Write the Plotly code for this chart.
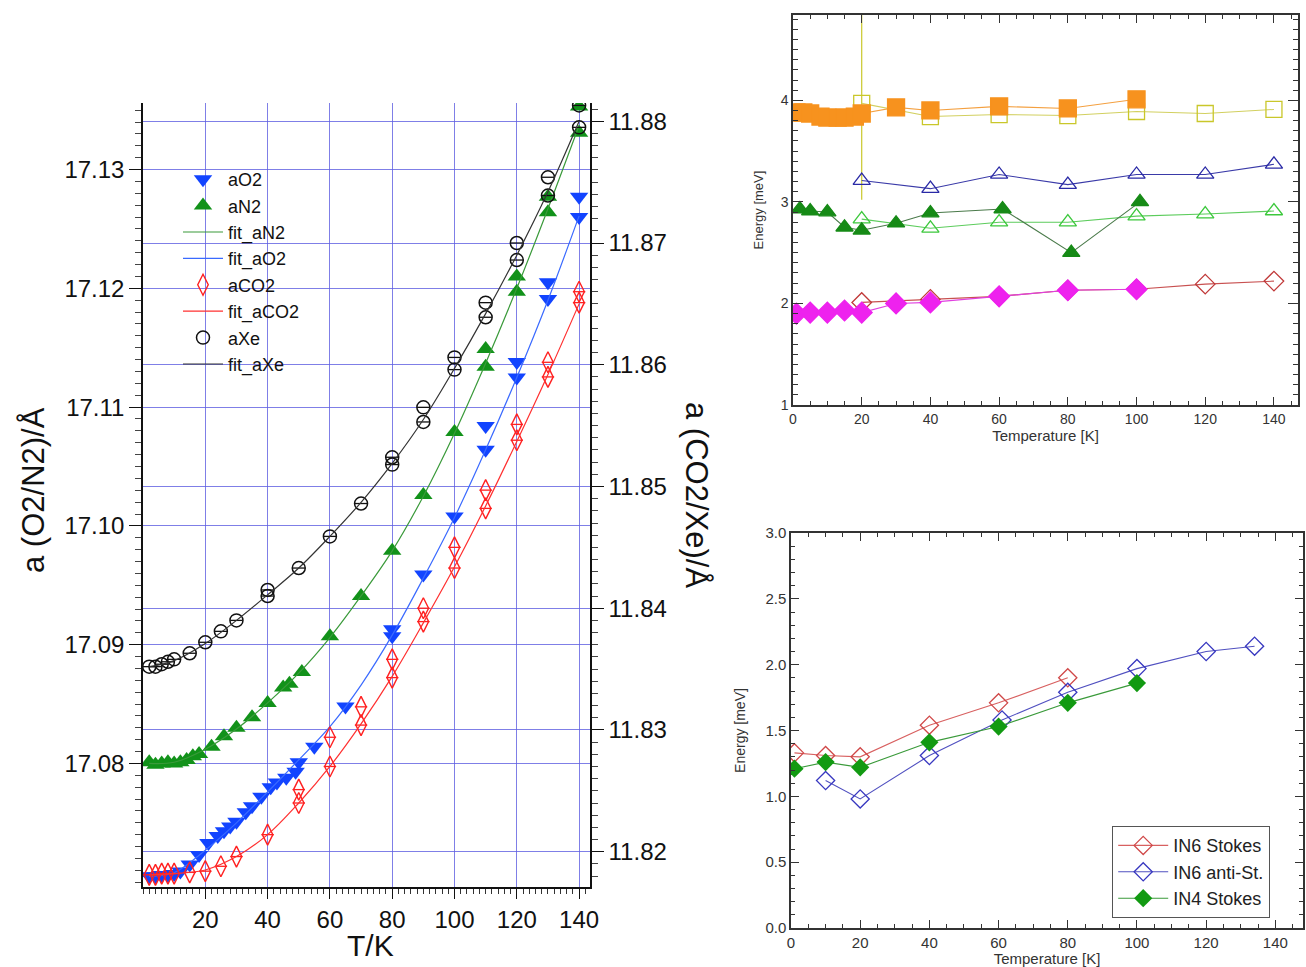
import plotly.graph_objects as go

# ---------------- Left panel data ----------------
T_O2 = [2, 4, 6, 8, 10, 12, 15, 18, 21, 24, 26, 28, 30, 33, 35, 38, 41, 43, 46, 49, 50, 55, 65,
        80, 80, 90, 100, 110, 110, 120, 120, 130, 130, 140, 140]
a_O2 = [17.0705, 17.0705, 17.0706, 17.0706, 17.0707, 17.0709, 17.0715, 17.0723, 17.0733, 17.0739,
        17.0743, 17.0747, 17.0751, 17.0759, 17.0764, 17.0772, 17.0780, 17.0784, 17.0788, 17.0793,
        17.0801, 17.0814, 17.0848, 17.0907, 17.0913, 17.0959, 17.1008, 17.1064, 17.1084, 17.1125,
        17.1138, 17.1191, 17.1205, 17.1260, 17.1277]

T_N2 = [2, 4, 6, 8, 10, 12, 14, 16, 18, 22, 26, 30, 35, 40, 45, 47, 51, 60, 70, 80, 90, 100,
        110, 110, 120, 120, 130, 130, 140, 140]
a_N2 = [17.0801, 17.0799, 17.0800, 17.0801, 17.0800, 17.0801, 17.0803, 17.0806, 17.0808, 17.0814,
        17.0823, 17.0830, 17.0839, 17.0851, 17.0864, 17.0867, 17.0877, 17.0907, 17.0941, 17.0979,
        17.1026, 17.1079, 17.1134, 17.1149, 17.1197, 17.1210, 17.1264, 17.1277, 17.1331, 17.1353]

T_CO2 = [2, 4, 6, 8, 10, 15, 20, 25, 30, 40, 50, 50, 60, 60, 70, 70, 80, 80, 90, 90, 100, 100,
         110, 110, 120, 120, 130, 130, 140, 140]
a_CO2 = [11.8181, 11.8181, 11.8182, 11.8182, 11.8182, 11.8183, 11.8184, 11.8188, 11.8196, 11.8214,
         11.8240, 11.8251, 11.8270, 11.8294, 11.8304, 11.8319, 11.8343, 11.8358, 11.8389, 11.8400,
         11.8433, 11.8450, 11.8482, 11.8497, 11.8538, 11.8551, 11.8590, 11.8602, 11.8651, 11.8660]

T_Xe = [2, 4, 6, 8, 10, 15, 20, 25, 30, 40, 40, 50, 60, 70, 80, 80, 90, 90, 100, 100, 110, 110,
        120, 120, 130, 130, 140, 140]
a_Xe = [11.8352, 11.8352, 11.8354, 11.8356, 11.8358, 11.8363, 11.8372, 11.8381, 11.8390, 11.8410,
        11.8415, 11.8433, 11.8459, 11.8486, 11.8518, 11.8524, 11.8553, 11.8565, 11.8596, 11.8606,
        11.8639, 11.8651, 11.8686, 11.8700, 11.8739, 11.8754, 11.8795, 11.8813]

T_fit = [2, 10, 20, 30, 40, 50, 60, 70, 80, 90, 100, 110, 120, 130, 140]
fit_Xe = [11.8352, 11.8357, 11.8371, 11.8390, 11.8411, 11.8433, 11.8459, 11.8487, 11.8519, 11.8555,
          11.8597, 11.8642, 11.8690, 11.8742, 11.8800]
fit_N2 = [17.0800, 17.0801, 17.0812, 17.0829, 17.0851, 17.0876, 17.0906, 17.0941, 17.0979, 17.1025,
          17.1078, 17.1137, 17.1200, 17.1267, 17.1337]
fit_O2 = [17.0705, 17.0708, 17.0727, 17.0750, 17.0776, 17.0803, 17.0831, 17.0866, 17.0908, 17.0956,
          17.1007, 17.1064, 17.1125, 17.1190, 17.1261]
fit_CO2 = [11.8181, 11.8182, 11.8185, 11.8196, 11.8214, 11.8240, 11.8270, 11.8305, 11.8344, 11.8388,
           11.8434, 11.8484, 11.8537, 11.8592, 11.8650]

left_ticks = [17.08, 17.09, 17.10, 17.11, 17.12, 17.13]
right_ticks = [11.82, 11.83, 11.84, 11.85, 11.86, 11.87, 11.88]
x_ticks = [20, 40, 60, 80, 100, 120, 140]

# ---------------- Top-right panel data ----------------
T_or = [1, 3, 5, 8, 10, 13, 15, 18, 20, 30, 40, 60, 80, 100]
E_or = [3.88, 3.88, 3.87, 3.84, 3.83, 3.83, 3.83, 3.84, 3.87, 3.93, 3.90, 3.94, 3.92, 4.01]
T_ye = [20, 40, 60, 80, 100, 120, 140]
E_ye = [3.97, 3.84, 3.86, 3.85, 3.89, 3.87, 3.91]
err_ye = [0.95, 0, 0, 0, 0, 0, 0]
T_nv = [20, 40, 60, 80, 100, 120, 140]
E_nv = [3.21, 3.13, 3.27, 3.17, 3.27, 3.27, 3.37]
T_dg = [2, 5, 10, 15, 20, 30, 40, 61, 81, 101]
E_dg = [2.93, 2.91, 2.90, 2.75, 2.72, 2.79, 2.89, 2.93, 2.50, 3.00]
T_lg = [20, 40, 60, 80, 100, 120, 140]
E_lg = [2.83, 2.74, 2.80, 2.80, 2.86, 2.88, 2.91]
T_rd = [20, 40, 60, 80, 100, 120, 140]
E_rd = [2.01, 2.04, 2.07, 2.13, 2.14, 2.19, 2.22]
T_mg = [1, 5, 10, 15, 20, 30, 40, 60, 80, 100]
E_mg = [1.90, 1.91, 1.91, 1.93, 1.91, 2.00, 2.01, 2.07, 2.13, 2.14]

# ---------------- Bottom-right panel data ----------------
T_in6s = [1, 10, 20, 40, 60, 80]
E_in6s = [1.33, 1.31, 1.30, 1.54, 1.71, 1.90]
T_in6a = [10, 20, 40, 61, 80, 100, 120, 134]
E_in6a = [1.12, 0.98, 1.31, 1.58, 1.79, 1.97, 2.10, 2.14]
T_in4s = [1, 10, 20, 40, 60, 80, 100]
E_in4s = [1.21, 1.26, 1.22, 1.41, 1.53, 1.71, 1.86]

FONT = "Liberation Sans, Arial, Helvetica, sans-serif"
W, H = 1306, 967


def px(x):
    return x / W


def py(y):
    return 1 - y / H


fig = go.Figure()

# ---- left panel traces ----
fig.add_trace(go.Scatter(x=T_O2, y=a_O2, mode="markers", name="aO2", xaxis="x", yaxis="y",
                         marker=dict(symbol="triangle-down", size=16, color="#1244ff"),
                         legend="legend"))
fig.add_trace(go.Scatter(x=T_N2, y=a_N2, mode="markers", name="aN2", xaxis="x", yaxis="y",
                         marker=dict(symbol="triangle-up", size=16, color="#12921a"),
                         legend="legend"))
fig.add_trace(go.Scatter(x=T_fit, y=fit_N2, mode="lines", name="fit_aN2", xaxis="x", yaxis="y",
                         line=dict(color="#3a9a3a", width=1.2, shape="spline"), legend="legend"))
fig.add_trace(go.Scatter(x=T_fit, y=fit_O2, mode="lines", name="fit_aO2", xaxis="x", yaxis="y",
                         line=dict(color="#3a6aff", width=1.2, shape="spline"), legend="legend"))
fig.add_trace(go.Scatter(x=T_CO2, y=a_CO2, mode="markers", name="aCO2", xaxis="x", yaxis="y2",
                         marker=dict(symbol="diamond-tall-open", size=15, color="#ff2020",
                                     line=dict(width=1.4)),
                         error_x=dict(type="constant", value=2.0, width=0, thickness=1.3,
                                      color="#ff2020"),
                         legend="legend"))
fig.add_trace(go.Scatter(x=T_fit, y=fit_CO2, mode="lines", name="fit_aCO2", xaxis="x", yaxis="y2",
                         line=dict(color="#ff3030", width=1.2, shape="spline"), legend="legend"))
fig.add_trace(go.Scatter(x=T_Xe, y=a_Xe, mode="markers", name="aXe", xaxis="x", yaxis="y2",
                         marker=dict(symbol="circle-open", size=13, color="#111111",
                                     line=dict(width=1.5)),
                         error_x=dict(type="constant", value=2.0, width=0, thickness=1.3,
                                      color="#111111"),
                         legend="legend"))
fig.add_trace(go.Scatter(x=T_fit, y=fit_Xe, mode="lines", name="fit_aXe", xaxis="x", yaxis="y2",
                         line=dict(color="#333333", width=1.2, shape="spline"), legend="legend"))

# ---- top-right traces ----
def tr_top(x, y, sym, color, size, lcolor, err=None):
    t = go.Scatter(x=x, y=y, mode="lines+markers", xaxis="x3", yaxis="y3", showlegend=False,
                   marker=dict(symbol=sym, size=size, color=color, line=dict(width=1.3, color=color)),
                   line=dict(color=lcolor, width=1.1))
    if err is not None:
        t.error_y = dict(type="data", array=err, width=0, thickness=1.2, color=color)
    return t


fig.add_trace(tr_top(T_ye, E_ye, "square-open", "#c9c72a", 16, "#d2d060", err_ye))
fig.add_trace(tr_top(T_or, E_or, "square", "#f7921e", 17, "#f4a040"))
fig.add_trace(tr_top(T_nv, E_nv, "triangle-up-open", "#2a2aa6", 15, "#3a3aa8"))
fig.add_trace(tr_top(T_lg, E_lg, "triangle-up-open", "#3cc83c", 15, "#5ccc5c"))
fig.add_trace(tr_top(T_dg, E_dg, "triangle-up", "#168a16", 15, "#4a7a4a"))
fig.add_trace(tr_top(T_rd, E_rd, "diamond-open", "#c03838", 15, "#c85050"))
fig.add_trace(tr_top(T_mg, E_mg, "diamond", "#ee22ee", 16, "#e040e0"))

# ---- bottom-right traces ----
fig.add_trace(go.Scatter(x=T_in6s, y=E_in6s, mode="lines+markers", name="IN6 Stokes",
                         xaxis="x4", yaxis="y4", legend="legend2",
                         marker=dict(symbol="diamond-open", size=14, color="#d04848",
                                     line=dict(width=1.3)),
                         line=dict(color="#d86060", width=1.1)))
fig.add_trace(go.Scatter(x=T_in6a, y=E_in6a, mode="lines+markers", name="IN6 anti-St.",
                         xaxis="x4", yaxis="y4", legend="legend2",
                         marker=dict(symbol="diamond-open", size=14, color="#3838c0",
                                     line=dict(width=1.3)),
                         line=dict(color="#5050c0", width=1.1)))
fig.add_trace(go.Scatter(x=T_in4s, y=E_in4s, mode="lines+markers", name="IN4 Stokes",
                         xaxis="x4", yaxis="y4", legend="legend2",
                         marker=dict(symbol="diamond", size=14, color="#129a12"),
                         line=dict(color="#3a9a3a", width=1.1)))

grid_c = "rgba(95,95,225,0.8)"
ax_font = dict(family=FONT, size=24, color="#111")

fig.update_layout(
    width=W, height=H,
    margin=dict(l=0, r=0, t=0, b=0, autoexpand=False),
    paper_bgcolor="white", plot_bgcolor="rgba(0,0,0,0)",
    font=dict(family=FONT, color="#111"),
    xaxis=dict(domain=[px(143), px(590)], range=[0, 143.5], anchor="y", automargin=False,
               tickvals=x_ticks, ticks="outside", ticklen=10, tickwidth=1.3, tickcolor="#111",
               minor=dict(dtick=2, tick0=0, ticks="outside", ticklen=5, tickcolor="#333",
                          showgrid=False),
               showline=True, linecolor="#111", linewidth=1.5, mirror=False,
               showgrid=True, gridcolor=grid_c, gridwidth=1.3, zeroline=False,
               tickfont=ax_font),
    yaxis=dict(domain=[py(887), py(103)], range=[17.0696, 17.1356], anchor="x", automargin=False,
               tickvals=left_ticks, tickformat=".2f", ticks="outside", ticklen=12,
               tickwidth=1.3, tickcolor="#111",
               minor=dict(dtick=0.001, tick0=17.08, ticks="outside", ticklen=6, tickcolor="#444",
                          showgrid=False),
               showline=True, linecolor="#111", linewidth=1.5,
               showgrid=True, gridcolor=grid_c, gridwidth=1.3, zeroline=False,
               tickfont=ax_font),
    yaxis2=dict(range=[11.8171, 11.8815], overlaying="y", side="right", anchor="x",
                automargin=False,
                tickvals=right_ticks, tickformat=".2f", ticks="outside", ticklen=12,
                tickwidth=1.3, tickcolor="#111",
                minor=dict(dtick=0.001, tick0=11.82, ticks="outside", ticklen=6, tickcolor="#444",
                           showgrid=False),
                showline=True, linecolor="#111", linewidth=1.5,
                showgrid=True, gridcolor=grid_c, gridwidth=1.3, zeroline=False,
                tickfont=ax_font),
    xaxis3=dict(domain=[px(793), px(1298)], range=[0, 147], anchor="y3", automargin=False,
                dtick=20, tick0=0, ticks="inside", ticklen=8, tickcolor="#333",
                minor=dict(dtick=5, ticks="inside", ticklen=4, tickcolor="#333"),
                showline=True, linecolor="#333", linewidth=1.5, mirror="allticks",
                showgrid=False, zeroline=False,
                tickfont=dict(family=FONT, size=14, color="#333"),
                title=dict(text="Temperature [K]", font=dict(family=FONT, size=15, color="#333"),
                           standoff=0)),
    yaxis3=dict(domain=[py(405), py(15)], range=[1, 4.84], anchor="x3", automargin=False,
                dtick=1, tick0=0, ticks="inside", ticklen=10, tickcolor="#333",
                minor=dict(dtick=0.1, ticks="inside", ticklen=5, tickcolor="#333"),
                showline=True, linecolor="#333", linewidth=1.5, mirror="allticks",
                showgrid=False, zeroline=False,
                tickfont=dict(family=FONT, size=14, color="#333"),
                title=dict(text="Energy [meV]", font=dict(family=FONT, size=13, color="#333"),
                           standoff=14)),
    xaxis4=dict(domain=[px(791), px(1303)], range=[0, 148], anchor="y4", automargin=False,
                dtick=20, tick0=0, ticks="inside", ticklen=8, tickcolor="#333",
                minor=dict(dtick=5, ticks="inside", ticklen=4, tickcolor="#333"),
                showline=True, linecolor="#333", linewidth=1.5, mirror="allticks",
                showgrid=False, zeroline=False,
                tickfont=dict(family=FONT, size=15, color="#333"),
                title=dict(text="Temperature [K]", font=dict(family=FONT, size=15, color="#333"),
                           standoff=0)),
    yaxis4=dict(domain=[py(928), py(533)], range=[0, 3.0], anchor="x4", automargin=False,
                dtick=0.5, tick0=0, tickformat=".1f", ticks="inside", ticklen=8, tickcolor="#333",
                minor=dict(dtick=0.1, ticks="inside", ticklen=4, tickcolor="#333"),
                showline=True, linecolor="#333", linewidth=1.5, mirror="allticks",
                showgrid=False, zeroline=False,
                tickfont=dict(family=FONT, size=15, color="#333"),
                title=dict(text="Energy [meV]", font=dict(family=FONT, size=14, color="#333"),
                           standoff=16)),
    legend=dict(x=px(178), y=py(161), xanchor="left", yanchor="top",
                bgcolor="rgba(255,255,255,0)", borderwidth=0,
                font=dict(family=FONT, size=18, color="#111"), tracegroupgap=0,
                itemwidth=40),
    legend2=dict(x=px(1112), y=py(826), xanchor="left", yanchor="top",
                 bgcolor="white", bordercolor="#555", borderwidth=1.2,
                 font=dict(family=FONT, size=18, color="#222"), tracegroupgap=0,
                 itemwidth=50),
    annotations=[
        dict(text="T/K", x=px(370), y=py(945), xref="paper", yref="paper", showarrow=False,
             xanchor="center", yanchor="middle",
             font=dict(family=FONT, size=30, color="#111")),
        dict(text="a (O2/N2)/Å", x=px(33), y=py(490), xref="paper", yref="paper",
             xanchor="center", yanchor="middle",
             showarrow=False, textangle=-90, font=dict(family=FONT, size=31, color="#111")),
        dict(text="a (CO2/Xe)/Å", x=px(697), y=py(495), xref="paper", yref="paper",
             xanchor="center", yanchor="middle",
             showarrow=False, textangle=90, font=dict(family=FONT, size=31, color="#111")),
    ],
)

fig.write_html("out.html", config={"displayModeBar": False},
               post_script="document.body.style.margin='0px';document.body.style.overflow='hidden';")
